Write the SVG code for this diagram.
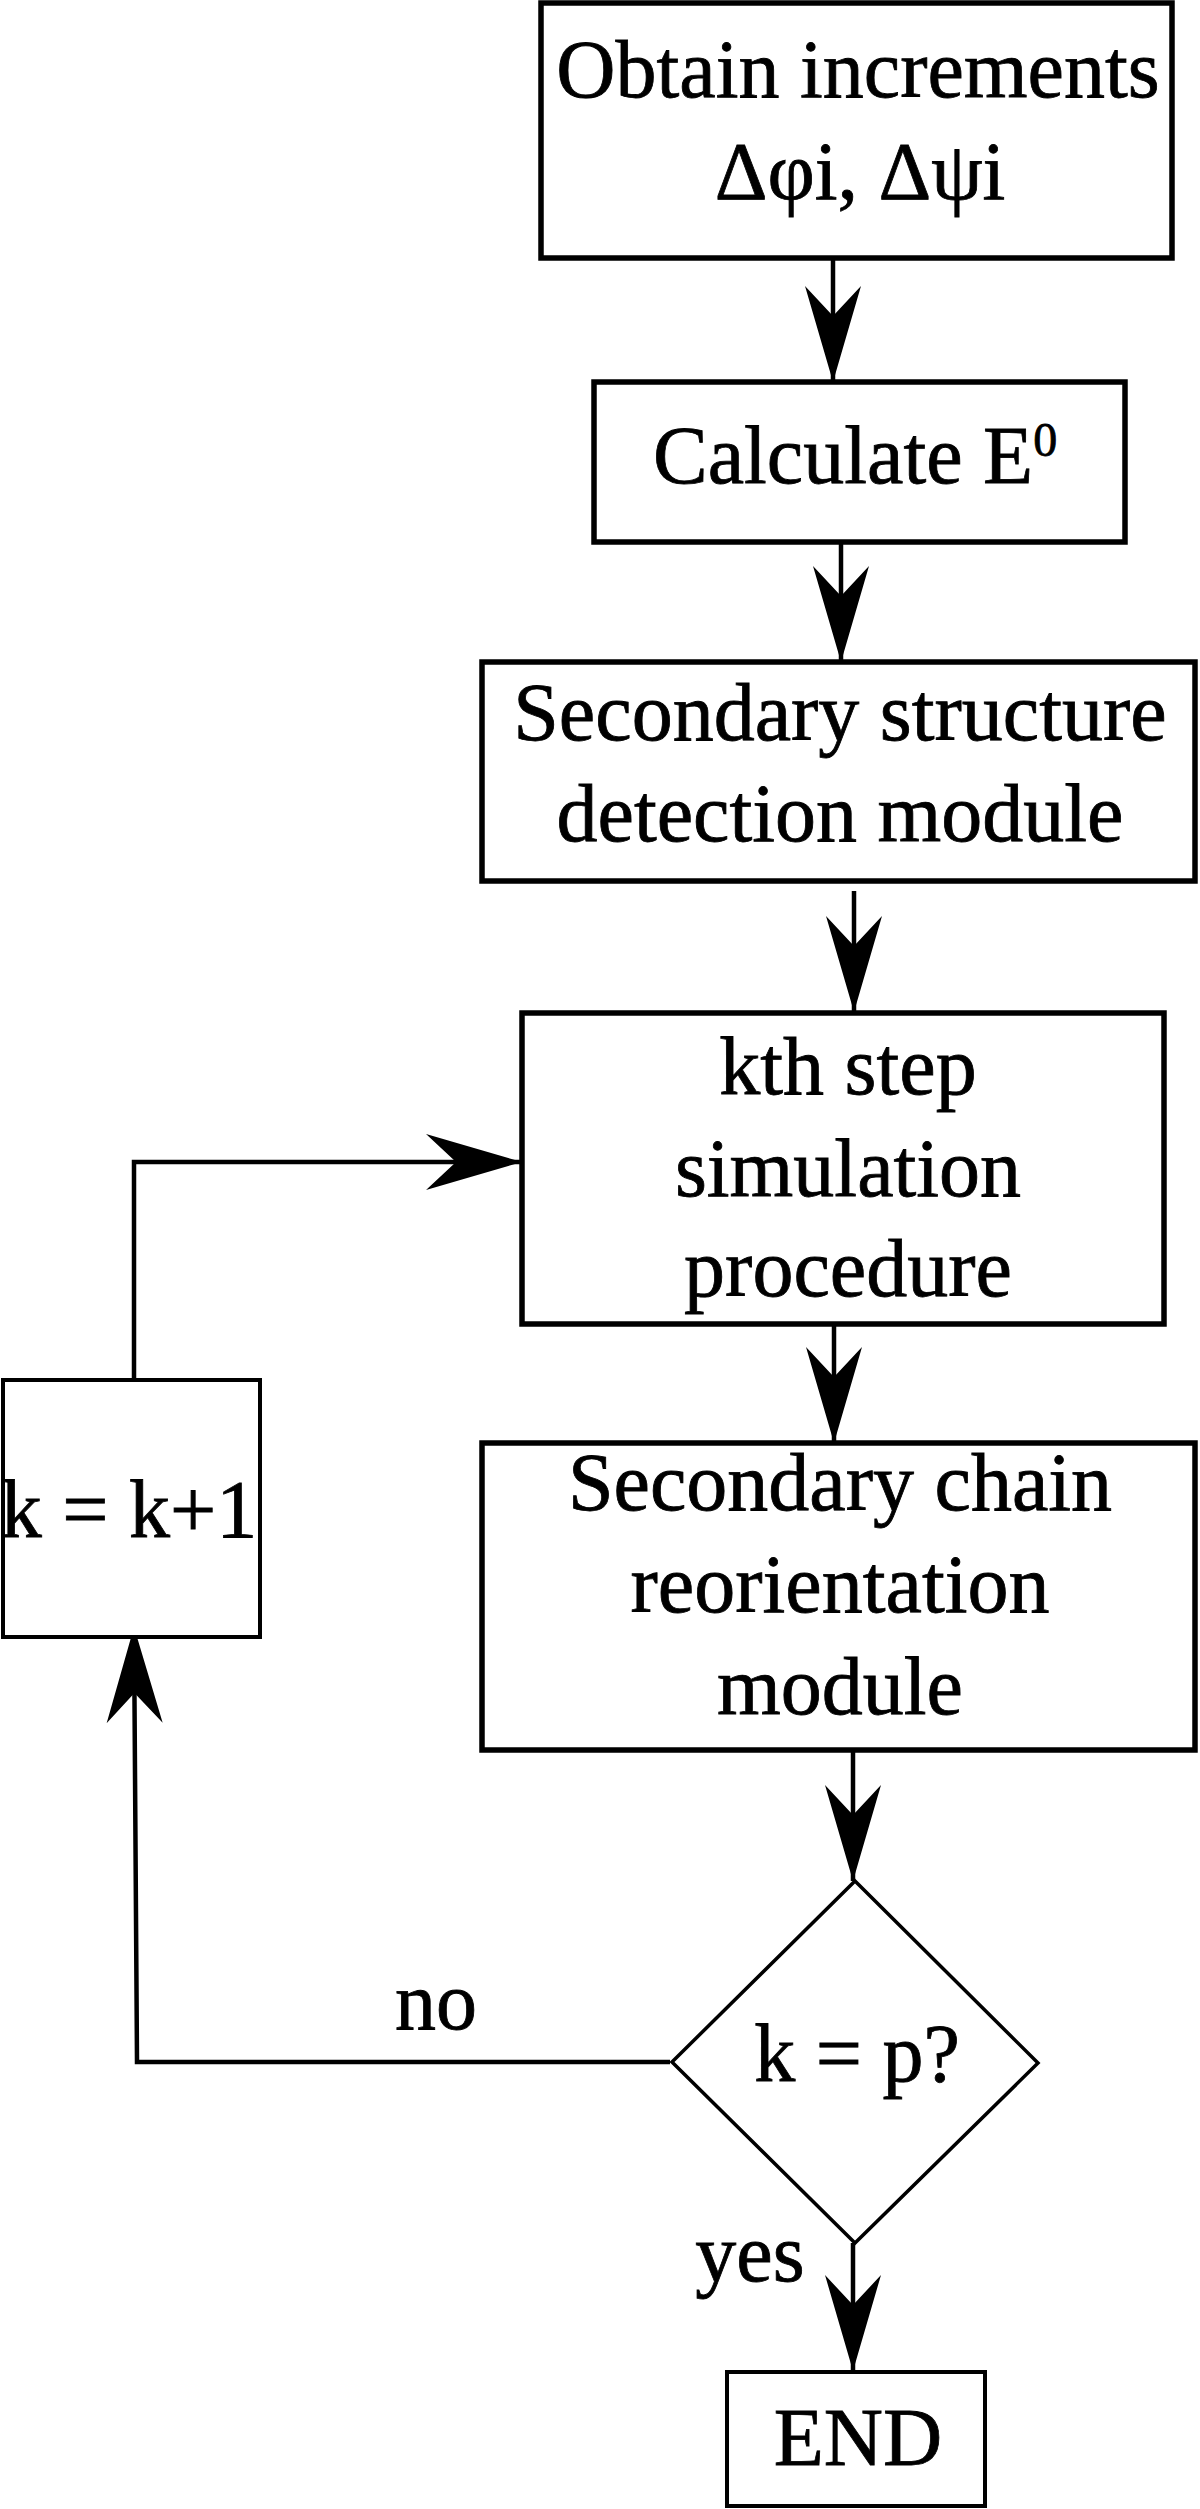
<svg xmlns="http://www.w3.org/2000/svg" width="1200" height="2509" viewBox="0 0 1200 2509">
<style>
.box{fill:#fff;stroke:#000;stroke-width:5.5}
.thin{fill:#fff;stroke:#000;stroke-width:4}
.dia{fill:#fff;stroke:#000;stroke-width:3.5}
.t{font-family:"Liberation Serif","Times New Roman",serif;font-size:82px;fill:#000;stroke:#000;stroke-width:0.8;text-anchor:middle}
.c{fill:none;stroke:#000;stroke-width:4.5}
</style>
<defs>
<marker id="ah" markerUnits="userSpaceOnUse" markerWidth="96" markerHeight="58" viewBox="0 -29 96 58" refX="96" refY="0" orient="auto">
<path d="M0,-28 L96,0 L0,28 L30,0 Z" fill="#000"/>
</marker>
</defs>
<rect width="1200" height="2509" fill="#fff"/>
<g id="connectors">
<path class="c" d="M833,258 L833,382" marker-end="url(#ah)"/>
<path class="c" d="M841,542 L841,662" marker-end="url(#ah)"/>
<path class="c" d="M854,891 L854,1012" marker-end="url(#ah)"/>
<path class="c" d="M834,1324 L834,1443" marker-end="url(#ah)"/>
<path class="c" d="M853,1750 L853,1881" marker-end="url(#ah)"/>
<path class="c" d="M853,2243 L853,2371" marker-end="url(#ah)"/>
<path class="c" d="M670,2062 L137,2062 L134,1627" marker-end="url(#ah)"/>
<path class="c" d="M134,1380 L134,1162 L522,1162" marker-end="url(#ah)"/>
</g>
<g id="n1">
<rect class="box" x="541" y="3" width="631" height="255"/>
<text class="t" x="858" y="97">Obtain increments</text>
<text class="t" x="860" y="199">Δφi, Δψi</text>
</g>
<g id="n2">
<rect class="box" x="594" y="382" width="531" height="160"/>
<text class="t" x="653" y="483" style="text-anchor:start">Calculate E<tspan font-size="48" dy="-27">0</tspan></text>
</g>
<g id="n3">
<rect class="box" x="482" y="662" width="713" height="219"/>
<text class="t" x="840" y="740">Secondary structure</text>
<text class="t" x="840" y="841">detection module</text>
</g>
<g id="n4">
<rect class="box" x="522" y="1013" width="642" height="311"/>
<text class="t" x="848" y="1094">kth step</text>
<text class="t" x="848" y="1196">simulation</text>
<text class="t" x="848" y="1296">procedure</text>
</g>
<g id="n5">
<rect class="box" x="482" y="1443" width="713" height="307"/>
<text class="t" x="840" y="1510">Secondary chain</text>
<text class="t" x="840" y="1612">reorientation</text>
<text class="t" x="840" y="1714">module</text>
</g>
<g id="n6">
<rect class="thin" x="3" y="1380" width="257" height="257"/>
<text class="t" x="129" y="1537">k = k+1</text>
</g>
<g id="n7">
<polygon class="dia" points="855,1881 1038,2063 855,2243 672,2062"/>
<text class="t" x="857" y="2081">k = p?</text>
</g>
<g id="n8">
<rect class="thin" x="727" y="2372" width="258" height="134"/>
<text class="t" x="858" y="2465">END</text>
</g>
<g id="labels">
<text class="t" x="436" y="2029">no</text>
<text class="t" x="750" y="2281">yes</text>
</g>
</svg>
